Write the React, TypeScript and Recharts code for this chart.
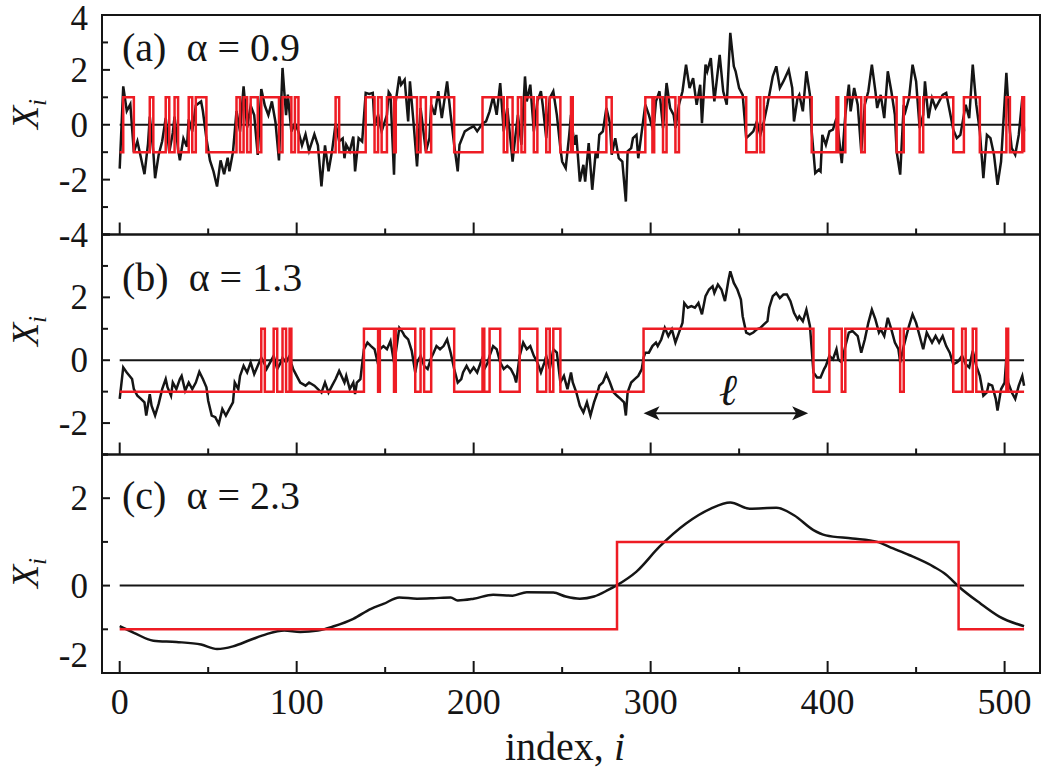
import React from 'react';
import { LineChart, Line, XAxis, YAxis, ReferenceLine, ReferenceArea } from 'recharts';

const FONT = '"Liberation Serif", "DejaVu Serif", serif';
const INK = '#151515';
const RED = '#ee1c24';
const W = 1050;
const H = 771;

// x axis
const xDomain: [number, number] = [-10, 520];
const xTicks = [0, 50, 100, 150, 200, 250, 300, 350, 400, 450, 500];

// (a) alpha = 0.9
const idxA = [
  0, 2, 4, 6, 8, 10, 12, 14, 16, 17, 19, 20, 22, 24, 26, 28, 30, 31, 33, 34, 36, 38, 39, 41, 43, 46, 47, 49, 51, 53,
  55, 57, 59, 61, 62, 64, 66, 68, 70, 72, 74, 76, 78, 80, 82, 84, 86, 88, 90, 92, 94, 95, 97, 99, 101, 103, 105, 107,
  110, 112, 114, 116, 118, 120, 122, 124, 126, 127, 128, 130, 132, 133, 135, 137, 139, 141, 143, 144, 146, 148, 151,
  152, 153, 155, 156, 158, 159, 161, 163, 164, 166, 168, 170, 173, 175, 176, 178, 180, 182, 185, 187, 189, 191, 192,
  195, 198, 200, 202, 205, 207, 209, 211, 213, 215, 217, 219, 222, 223, 225, 227, 229, 230, 232, 234, 236, 238, 239,
  241, 243, 245, 247, 249, 250, 252, 254, 255, 256, 257, 258, 260, 262, 263, 265, 267, 269, 270, 271, 273, 275, 277,
  278, 280, 282, 284, 286, 287, 289, 290, 292, 293, 295, 297, 299, 301, 302, 303, 305, 307, 309, 311, 313, 314, 316,
  318, 320, 322, 324, 326, 328, 329, 331, 332, 334, 336, 339, 341, 343, 345, 347, 348, 350, 352, 354, 356, 358, 360,
  362, 364, 366, 369, 371, 373, 375, 378, 380, 381, 383, 384, 386, 388, 390, 391, 393, 395, 396, 397, 399, 401, 403,
  405, 406, 408, 410, 412, 413, 415, 417, 419, 421, 423, 425, 427, 428, 430, 432, 434, 436, 438, 439, 441, 443, 444,
  446, 448, 450, 452, 454, 455, 457, 459, 461, 463, 465, 467, 469, 471, 473, 475, 477, 478, 480, 482, 484, 486, 488,
  490, 492, 494, 496, 498, 499, 501, 503, 504, 506, 508, 510, 511,
];
const valA = [
  -1.6, 1.4, 0.5, 0.75, -1.0, -0.6, -1.2, -1.8, -0.7, 0.3, -1.0, -1.95, -1.1, -0.6, 0.25, -1.0, -0.3, 0.3, -0.9, -1.3,
  -0.5, -0.8, 0.2, -0.25, 0.7, 0.85, 0.5, -0.5, -1.3, -1.7, -2.25, -1.3, -1.8, -1.2, -1.7, -1.0, 0.5, -0.25, 1.4,
  -0.1, 0.7, 0.35, -1.1, 1.3, 0.7, 0.35, 0.85, 0.1, -1.3, 2.07, 0.35, 1.1, -0.25, 0.05, -0.25, -0.75, -0.35, -0.95,
  -0.35, -0.75, -2.25, -0.75, -1.7, -0.95, 0.05, -0.6, -0.5, -1.22, -0.73, -0.97, -0.43, -1.7, -0.49, -0.61, 1.16,
  1.12, 1.16, -0.05, 0.36, -0.24, 0.36, 1.19, 1.09, -1.82, 0.85, 1.76, 1.46, 1.64, 0.12, 1.58, 0.1, -1.52, 0.61,
  -0.97, -0.49, 0.73, 0.36, 1.22, 0.24, 1.58, 0.36, -0.73, -1.7, -0.73, -0.24, -0.12, -0.05, -0.24, 0.05, 0.12, 0.49,
  1.03, 0.36, 1.52, -0.24, 0.61, -1.34, -0.73, 0.36, -0.73, 1.76, 0.85, 1.46, -0.24, 0.85, 1.22, 0.73, -0.49, 0.97,
  1.22, 0.36, -0.85, -1.34, -1.58, -0.37, 0.36, -0.24, -0.73, -0.37, -2.07, -1.46, -2.07, -0.67, -2.37, -0.97, -1.22,
  -0.37, -0.24, 0.61, 0.05, -1.09, -0.49, -1.22, -1.34, -2.8, -0.97, -0.85, -0.49, -0.37, -1.22, -0.24, 0.73, 0.36,
  -0.12, 0.12, 0.85, 1.22, -0.12, 1.52, 0.61, 0.36, -0.12, 0.73, 1.22, 2.19, 1.34, 1.7, 0.73, 1.46, 0.06, 2.19, 1.95,
  2.43, 0.85, 2.55, 1.22, 0.73, 3.35, 2.13, 1.95, 1.34, 1.09, -0.49, -0.37, -0.24, 0.12, -0.37, 0.12, 0.73, 1.76,
  2.13, 1.34, 1.58, 2.0, 1.34, 0.12, 0.97, 1.09, 0.49, 1.95, 1.09, -0.24, -1.76, -1.64, -1.7, -0.37, -0.73, -0.24,
  -0.18, 0.24, -0.24, -1.4, 0.36, 1.46, 0.49, 1.34, 0.73, -0.97, 0.73, 1.22, 2.19, 1.22, 0.61, 1.09, 0.24, 1.95, 1.22,
  0.36, -0.97, -1.82, 0.73, 0.49, 0.97, 2.19, 1.58, -0.12, 0.36, 1.58, 0.24, 0.97, 0.61, 0.85, 1.09, 1.16, 0.49, -0.18,
  -0.49, -0.37, 0.36, 0.73, 0.24, 2.19, 0.73, -0.24, -1.95, -0.37, -0.49, -1.09, -2.19, -1.34, -0.24, 1.89, -0.24,
  -0.85, -1.09, -0.37, 0.97, -0.24,
];

// (b) alpha = 1.3
const idxB = [
  0, 2, 4, 7, 8, 10, 12, 14, 15, 17, 18, 20, 22, 24, 26, 27, 29, 30, 32, 34, 35, 37, 39, 41, 43, 45, 47, 49, 50, 52,
  54, 56, 58, 60, 62, 64, 65, 67, 68, 70, 72, 74, 76, 78, 80, 82, 83, 85, 87, 89, 91, 92, 94, 96, 97, 98, 100, 102,
  105, 107, 110, 112, 114, 116, 118, 120, 122, 124, 127, 128, 130, 132, 133, 134, 136, 138, 140, 142, 144, 146, 147,
  149, 151, 153, 155, 156, 158, 160, 161, 163, 165, 167, 168, 170, 172, 174, 176, 177, 179, 181, 183, 185, 187, 189,
  191, 193, 194, 196, 198, 200, 202, 204, 205, 206, 208, 209, 211, 213, 215, 217, 219, 221, 223, 224, 226, 228, 230,
  232, 234, 236, 238, 240, 241, 243, 245, 247, 249, 251, 253, 255, 256, 258, 260, 262, 264, 266, 268, 270, 271, 273,
  275, 277, 279, 281, 283, 285, 286, 287, 289, 291, 293, 295, 296, 297, 299, 301, 303, 304, 306, 308, 310, 312, 314,
  316, 318, 319, 321, 323, 325, 327, 329, 331, 333, 335, 336, 338, 340, 342, 344, 345, 347, 349, 351, 352, 354, 356,
  358, 360, 362, 364, 366, 367, 369, 371, 373, 375, 377, 379, 381, 383, 384, 386, 388, 390, 391, 392, 394, 396, 398,
  399, 401, 403, 405, 406, 408, 410, 412, 414, 415, 417, 419, 421, 423, 425, 427, 429, 430, 432, 434, 436, 438, 440,
  441, 443, 445, 446, 448, 450, 452, 454, 456, 457, 459, 461, 463, 465, 467, 469, 471, 473, 474, 476, 478, 480, 482,
  484, 486, 488, 490, 491, 493, 495, 496, 498, 500, 501, 502, 504, 506, 508, 510, 511,
];
const valB = [
  -1.23, -0.23, -0.39, -0.6, -0.92, -1.13, -1.23, -1.34, -1.76, -1.08, -1.45, -1.76, -1.39, -0.92, -0.6, -0.86, -1.13,
  -0.71, -0.92, -0.6, -0.5, -0.97, -0.71, -0.92, -0.71, -0.37, -0.6, -0.86, -1.29, -1.76, -1.81, -2.03, -1.55, -1.76,
  -1.55, -1.34, -0.71, -0.92, -0.5, -0.18, -0.39, -0.07, -0.44, -0.18, 0.08, -0.13, -0.28, -0.07, 0.14, -0.28, -0.07,
  0.08, -0.07, 0.14, -0.1, -0.28, -0.5, -0.71, -0.81, -0.71, -0.81, -0.92, -1.03, -0.71, -1.03, -0.81, -0.6, -0.34,
  -0.71, -0.5, -0.92, -0.71, -1.08, -0.71, -0.6, 0.35, 0.56, 0.45, 0.35, -0.13, 0.35, 0.45, 0.35, 0.61, -0.07, 0.24,
  1.03, 0.88, 0.77, 0.66, 0.3, -0.39, -0.07, 0.14, -0.18, -0.28, 0.08, 0.19, 0.45, 0.35, 0.45, 0.66, 0.24, -0.28,
  -0.71, -0.6, -0.39, -0.18, -0.39, -0.23, -0.39, -0.07, 0.08, -0.28, -0.07, 0.14, 0.45, 0.35, -0.07, -0.28, -0.18,
  -0.28, -0.5, -0.71, 0.14, 0.56, 0.35, 0.45, 0.14, -0.07, -0.39, -0.07, 0.14, -0.28, 0.35, 0.24, -0.71, -0.5, -0.92,
  -0.39, -0.71, -1.02, -1.45, -1.66, -1.34, -1.76, -1.34, -1.02, -0.81, -0.71, -0.44, -0.71, -1.02, -1.13, -1.23,
  -1.34, -1.76, -1.02, -0.71, -0.6, -0.5, -0.28, 0.08, 0.24, 0.24, 0.45, 0.56, 0.45, 0.66, 1.03, 0.77, 0.98, 0.56,
  0.88, 1.19, 1.82, 1.67, 1.72, 1.67, 1.82, 1.46, 2.04, 2.25, 2.35, 2.14, 2.41, 2.25, 1.88, 2.56, 2.83, 2.46, 2.25,
  1.93, 1.4, 0.88, 0.82, 0.88, 0.98, 1.03, 1.14, 1.24, 1.67, 2.04, 2.14, 1.98, 2.09, 2.09, 1.88, 1.51, 1.3, 1.4, 1.24,
  1.61, 1.09, 0.35, -0.39, -0.55, -0.55, -0.28, -0.18, 0.14, 0.03, 0.35, 0.03, -0.07, 0.45, 0.88, 0.93, 0.88, 0.77,
  0.24, 0.66, 1.19, 1.61, 1.3, 0.88, 0.98, 0.77, 1.35, 0.98, 0.56, 0.35, -0.07, 0.45, 0.88, 1.09, 1.46, 1.19, 0.77,
  0.35, 0.88, 0.77, 0.56, 0.77, 0.56, 0.77, 0.45, 0.24, -0.13, -0.07, -0.02, 0.14, -0.13, -0.23, 0.3, -0.18, -0.5,
  -1.13, -1.02, -0.76, -0.81, -1.23, -1.6, -0.92, -0.71, 0.08, -0.71, -1.02, -1.23, -0.81, -0.5, -0.81,
];

// (c) alpha = 2.3
const idxC = [
  0, 8, 19, 32, 46, 55, 64, 74, 83, 93, 102, 112, 121, 132, 142, 149, 158, 168, 177, 187, 191, 200, 211, 222, 230, 245,
  252, 260, 268, 276, 281, 292, 305, 320, 334, 345, 356, 371, 381, 392, 399, 414, 428, 437, 446, 460, 467, 474, 486,
  497, 511,
];
const valC = [
  -0.93, -1.08, -1.26, -1.29, -1.35, -1.45, -1.39, -1.24, -1.11, -1.03, -1.06, -1.03, -0.93, -0.76, -0.53, -0.42, -0.27,
  -0.3, -0.29, -0.27, -0.34, -0.3, -0.21, -0.23, -0.15, -0.16, -0.25, -0.3, -0.25, -0.1, 0.01, 0.32, 0.89, 1.42, 1.76,
  1.9, 1.76, 1.78, 1.61, 1.27, 1.15, 1.08, 1.0, 0.85, 0.7, 0.43, 0.25, -0.02, -0.4, -0.71, -0.93,
];

// extent of the length l marked in panel (b)
const ellFrom = 296;
const ellTo = 389;

type Panel = {
  tag: string;
  alpha: string;
  idx: number[];
  val: number[];
  domain: [number, number];
  top: number;
  bottom: number;
  curve: 'linear' | 'monotone';
  titleDy: number;
  symbolY: number;
};

const panels: Panel[] = [
  { tag: '(a)', alpha: '0.9', idx: idxA, val: valA, domain: [-4, 4], top: 15, bottom: 234.5, curve: 'linear', titleDy: 46, symbolY: 114 },
  { tag: '(b)', alpha: '1.3', idx: idxB, val: valB, domain: [-3, 4], top: 234.5, bottom: 454.5, curve: 'linear', titleDy: 56, symbolY: 331 },
  { tag: '(c)', alpha: '2.3', idx: idxC, val: valC, domain: [-2, 3], top: 454.5, bottom: 673, curve: 'monotone', titleDy: 54, symbolY: 573 },
];

const range = (a: number, b: number) => {
  const out: number[] = [];
  for (let v = a; v <= b; v++) out.push(v);
  return out;
};

const XTick = (props: any) => {
  const { x, y, payload, showLabel } = props;
  const major = payload.value % 100 === 0;
  return (
    <g>
      <line x1={x} x2={x} y1={y} y2={y - (major ? 12 : 6)} stroke={INK} strokeWidth={2} />
      {showLabel && major && (
        <text x={x} y={y + 41} textAnchor="middle" fontSize={36} fontFamily={FONT} fill={INK}>
          {payload.value}
        </text>
      )}
    </g>
  );
};

const YTick = (props: any) => {
  const { x, y, payload, lo, hi, lastPanel } = props;
  const v = payload.value;
  const major = v % 2 === 0;
  const showLabel = major && (lo === -4 || v < hi);
  let dy = 0;
  if (lastPanel && v === lo) dy = -18;
  if (v === 4) dy = 3;
  return (
    <g>
      <line x1={x} x2={x + (major ? 8 : 6)} y1={y} y2={y} stroke={INK} strokeWidth={2} />
      {showLabel && (
        <text x={x - 14} y={y + 12 + dy} textAnchor="end" fontSize={35} fontFamily={FONT} fill={INK}>
          {v}
        </text>
      )}
    </g>
  );
};

const EllArrow = (props: any) => {
  const { x1, x2, y1 } = props;
  const h = 7;
  const L = 16;
  return (
    <g>
      <line x1={x1 + 4} x2={x2 - 4} y1={y1} y2={y1} stroke={INK} strokeWidth={2} />
      <polygon points={`${x1},${y1} ${x1 + L},${y1 - h} ${x1 + L - 4},${y1} ${x1 + L},${y1 + h}`} fill={INK} />
      <polygon points={`${x2},${y1} ${x2 - L},${y1 - h} ${x2 - L + 4},${y1} ${x2 - L},${y1 + h}`} fill={INK} />
      <text x={(x1 + x2) / 2 + 2} y={y1 - 8} textAnchor="middle" fontSize={44} fontStyle="italic" fontFamily={FONT} fill={INK}>
        ℓ
      </text>
    </g>
  );
};

const PanelChart = ({ p, last }: { p: Panel; last: boolean }) => {
  const rows = p.idx.map((i, k) => ({ i, x: p.val[k], s: p.val[k] >= 0 ? 1 : -1 }));
  const [lo, hi] = p.domain;
  return (
    <div style={{ position: 'absolute', left: 0, top: 0 }}>
      <LineChart width={W} height={H} data={rows} margin={{ top: p.top, bottom: H - p.bottom - 1, left: 42, right: 10 }}>
        <XAxis
          type="number"
          dataKey="i"
          domain={xDomain}
          ticks={xTicks}
          interval={0}
          height={1}
          tickSize={0}
          tickMargin={0}
          axisLine={false}
          tickLine={false}
          allowDataOverflow
          tick={(t: any) => <XTick {...t} showLabel={last} />}
        />
        <YAxis
          type="number"
          domain={p.domain}
          ticks={range(lo, hi)}
          interval={0}
          width={60}
          tickSize={0}
          tickMargin={0}
          axisLine={false}
          tickLine={false}
          allowDataOverflow
          tick={(t: any) => <YTick {...t} lo={lo} hi={hi} lastPanel={last} />}
        />
        <ReferenceArea x1={xDomain[0]} x2={xDomain[1]} y1={lo} y2={hi} fill="none" stroke={INK} strokeWidth={2} ifOverflow="visible" />
        <ReferenceLine segment={[{ x: 0, y: 0 }, { x: 511, y: 0 }]} stroke={INK} strokeWidth={2} />
        <Line dataKey="x" type={p.curve} stroke={INK} strokeWidth={2.5} dot={false} isAnimationActive={false} />
        <Line dataKey="s" type="stepAfter" stroke={RED} strokeWidth={2.5} dot={false} isAnimationActive={false} />
        {p.tag === '(b)' && (
          <ReferenceLine
            segment={[{ x: ellFrom, y: -1.69 }, { x: ellTo, y: -1.69 }]}
            shape={(s: any) => <EllArrow {...s} />}
          />
        )}
        <text x={122} y={p.top + p.titleDy} fontSize={40} fontFamily={FONT} fill={INK}>
          {p.tag}{'\u00A0\u00A0'}α{'\u00A0'}={'\u00A0'}{p.alpha}
        </text>
        <text
          x={38}
          y={p.symbolY}
          transform={`rotate(-90 38 ${p.symbolY})`}
          textAnchor="middle"
          fontSize={38}
          fontFamily={FONT}
          fontStyle="italic"
          fill={INK}
        >
          X
          <tspan fontSize={25} dy={8}>
            i
          </tspan>
        </text>
        {last && (
          <text x={565} y={760} textAnchor="middle" fontSize={40} fontFamily={FONT} fill={INK}>
            index,{' '}
            <tspan fontStyle="italic">i</tspan>
          </text>
        )}
      </LineChart>
    </div>
  );
};

export default function App() {
  return (
    <div style={{ position: 'absolute', left: 0, top: 0, width: W, height: H, background: '#fff' }}>
      {panels.map((p, k) => (
        <PanelChart key={p.tag} p={p} last={k === panels.length - 1} />
      ))}
    </div>
  );
}
